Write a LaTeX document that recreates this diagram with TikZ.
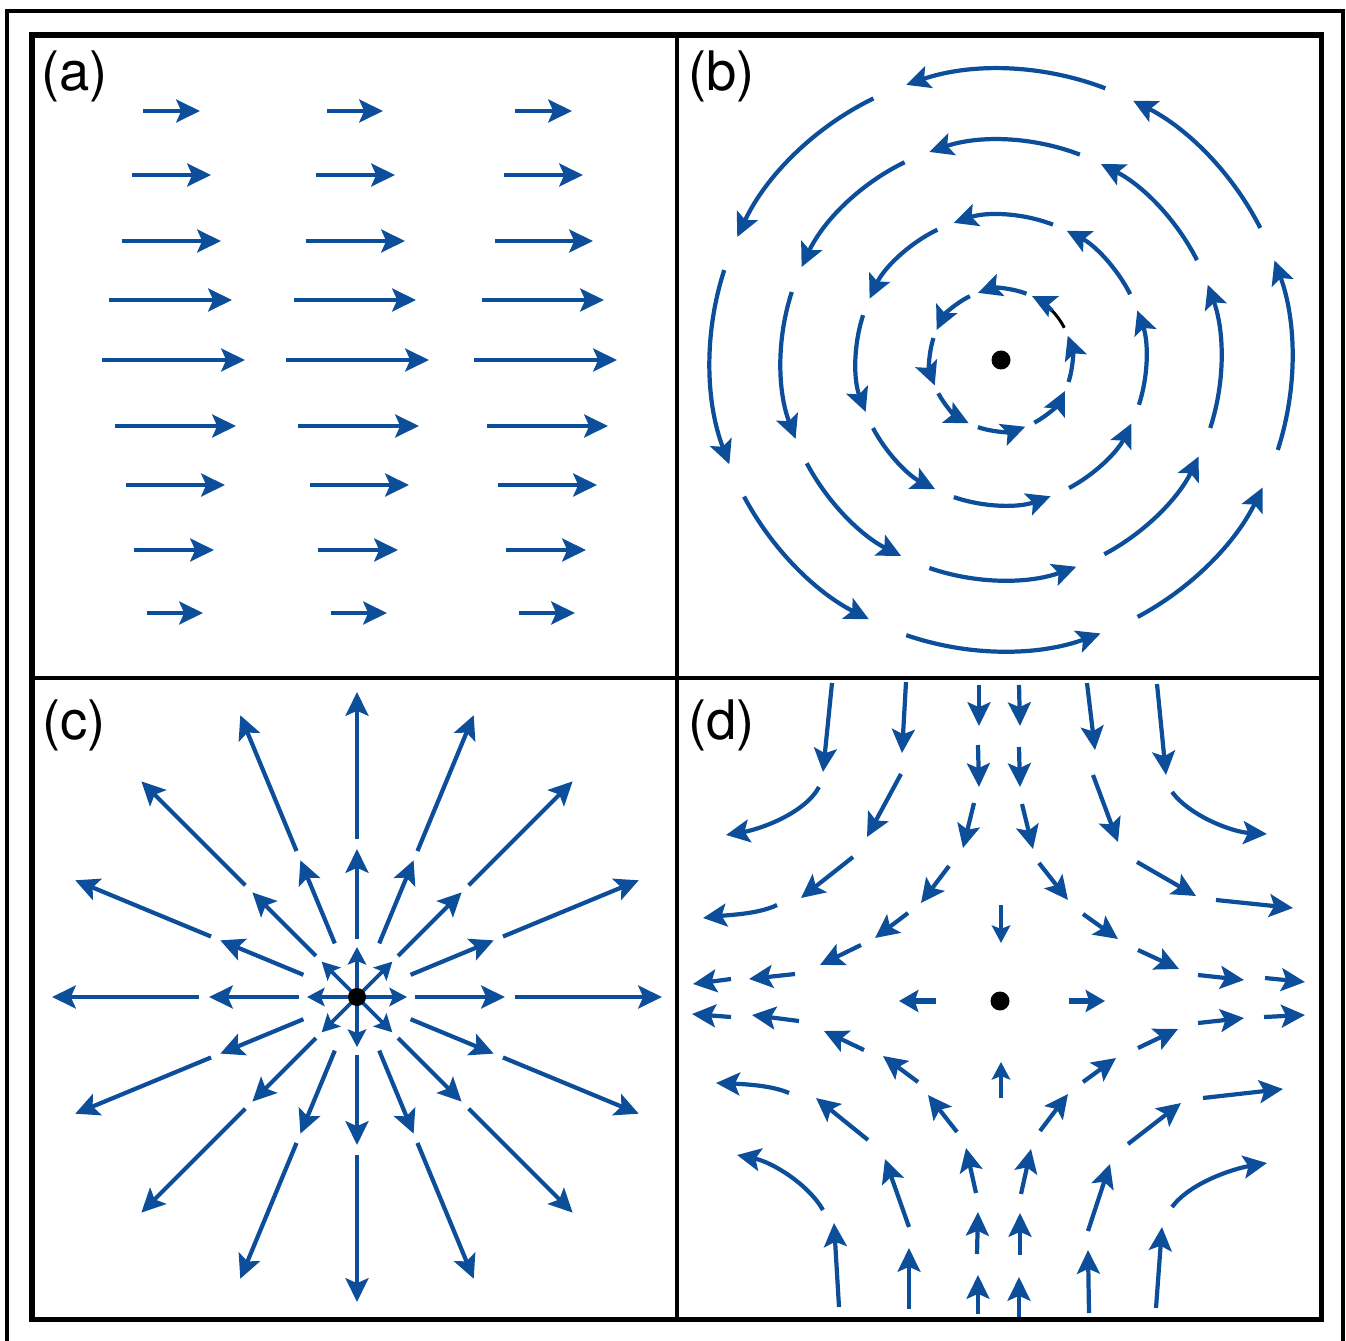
\documentclass[tikz,border=0pt]{standalone}
\usepackage{fontspec}
\newfontfamily\labfont{TeX Gyre Heros}
\usetikzlibrary{arrows.meta}
\definecolor{fblue}{RGB}{12,78,154}
\begin{document}
\begin{tikzpicture}[x=0.02cm,y=-0.02cm,
  arr/.style={draw=fblue, line width=2.4pt, -{Stealth[length=13.5pt,width=13pt,inset=2.8pt]}},
  sarr/.style={draw=fblue, line width=2.1pt, -{Stealth[length=10pt,width=10.5pt,inset=2pt]}},
  barr/.style={draw=fblue, line width=3pt, -{Stealth[length=11pt,width=12.5pt,inset=2pt]}},
  frame/.style={draw=black, line width=2.9pt},
  lab/.style={anchor=base west, inner sep=0pt, font=\labfont\fontsize{31}{33}\selectfont}]

\useasboundingbox (0,0) rectangle (1346,1341);

% frames
\draw[line width=2pt] (7,1341) -- (7,11) -- (1343,11) -- (1343,1341);
\draw[frame] (32,35) rectangle (1321.5,1319.5);
\draw[line width=2.5pt] (677,35) -- (677,1319.5);
\draw[line width=2.5pt] (32,678) -- (1321.5,678);

% labels
\node[lab] (la) at (41,91) {(a)};
\node[lab] (lb) at (688,91) {(b)};
\node[lab] (lc) at (42,739) {(c)};
\node[lab] (ld) at (688,739) {(d)};

% ---------- panel (a) ----------
\foreach \y/\a/\b/\c/\d/\e/\f in {
  111/143/200/327/383/515/572,
  175/132/211/316/395/504/583,
  241/122/221/306/405/495/593,
  300/109/232/294/416/482/604,
  360/102/245/286/429/474/617,
  426/115/236/298/419/487/608,
  485/126/225/310/409/498/597,
  550/134/214/318/398/506/586,
  613/147/203/331/387/519/575} {
  \draw[arr] (\a,\y) -- (\b,\y);
  \draw[arr] (\c,\y) -- (\d,\y);
  \draw[arr] (\e,\y) -- (\f,\y);
}

% ---------- panel (b) ----------
\begin{scope}[shift={(1001,360)}, yscale=-1]
  \foreach \r in {71,145,220,291} {
    \foreach \s/\e in {69/109,116/155,162/201,208/243,251/290,298/334,342/380} {
      \draw[arr] (\s:\r) arc[start angle=\s, end angle=\e, radius=\r];
    }
  }
  \foreach \r in {145,220,291} {
    \draw[arr] (27:\r) arc[start angle=27, end angle=63, radius=\r];
  }
  \draw[black, line width=1.7pt] (27:71) arc[start angle=27, end angle=47, radius=71];
  \draw[arr] (44:71) arc[start angle=44, end angle=64, radius=71];
  \fill[black] (0,0) circle[radius=9.5];
\end{scope}

% ---------- panel (c) ----------
\begin{scope}[shift={(357,997)}, yscale=-1]
  \foreach \k in {0,...,15} {
    \pgfmathsetmacro\ang{22.5*\k}
    \draw[arr] (\ang:58) -- (\ang:148);
    \draw[arr] (\ang:158) -- (\ang:305);
  }
  \foreach \ang in {0,45,...,315} {
    \draw[sarr] (0,0) -- (\ang:50);
  }
  \fill[black] (0,0) circle[radius=9];
\end{scope}

% ---------- panel (d) ----------
% straight segments
\foreach \a/\b/\c/\d in {
  832/683/823/772, 1157/684/1166/775,
  906/682/902/753, 901/774/867/837, 853/857/801/898,
  1087/683/1095/750, 1093/775/1118/842, 1137/862/1196/896, 1216/900/1293/908,
  979/685/979/726, 978/745/979/787, 974/803/963/848, 949/866/921/903,
  908/913/875/938, 861/945/820/965, 795/974/749/979, 731/979/693/984,
  1019/685/1020/726, 1019/747/1020/787, 1022/804/1033/849, 1039/863/1068/900,
  1083/914/1118/939, 1138/950/1179/969, 1198/975/1244/980, 1265/978/1305/982,
  839/1307/834/1223, 1156/1308/1162/1227,
  909/1309/909/1248, 909/1227/885/1159, 868/1140/816/1098,
  1089/1313/1088/1250, 1088/1231/1110/1164, 1128/1144/1181/1103, 1203/1098/1283/1089,
  978/1314/978/1275, 977/1254/978/1212, 976/1193/966/1148, 957/1132/928/1095,
  918/1082/883/1056, 864/1050/824/1031, 799/1021/752/1015, 731/1017/692/1014,
  1019/1317/1019/1277, 1020/1255/1020/1213, 1021/1194/1031/1149, 1040/1131/1068/1094,
  1083/1082/1116/1058, 1138/1048/1178/1029, 1198/1023/1244/1018, 1264/1017/1305/1015} {
  \draw[arr] (\a,\b) -- (\c,\d);
}
% curved segments
\draw[arr] (819,787) .. controls (805,813) and (761,829) .. (726,835);
\draw[arr] (1172,792) .. controls (1190,816) and (1232,832) .. (1267,834);
\draw[arr] (777,905) .. controls (759,914) and (728,915) .. (703,918);
\draw[arr] (823,1210) .. controls (808,1184) and (772,1162) .. (737,1155);
\draw[arr] (1172,1207) .. controls (1190,1183) and (1232,1169) .. (1267,1163);
\draw[arr] (789,1093) .. controls (771,1085) and (741,1084) .. (716,1083);
% centre arrows
\draw[sarr] (1001,905) -- (1001,943);
\draw[sarr] (1001,1098) -- (1001,1062);
\draw[barr] (936,1001) -- (899,1001);
\draw[barr] (1069,1001) -- (1105,1001);
\fill[black] (1000,1001) circle[radius=9.5];

\end{tikzpicture}
\end{document}
